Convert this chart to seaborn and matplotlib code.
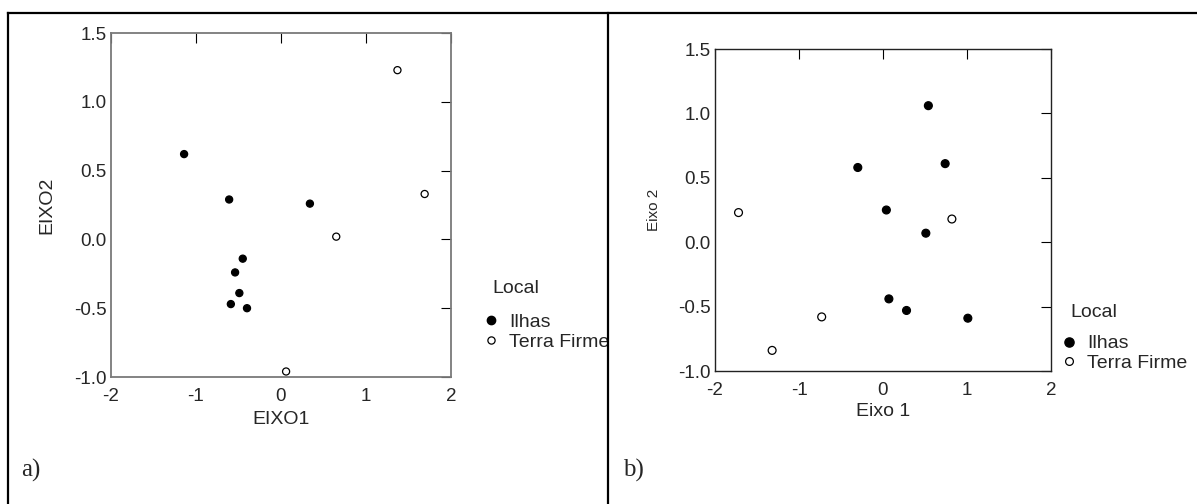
import matplotlib
matplotlib.use('Agg')
import matplotlib.pyplot as plt
from matplotlib.lines import Line2D
import seaborn as sns
import pandas as pd

# panel a) values
eixo1_a = [-1.14, -0.61, 0.34, -0.45, -0.54, -0.49, -0.59, -0.40,
           1.37, 1.69, 0.65, 0.06]
eixo2_a = [0.62, 0.29, 0.26, -0.14, -0.24, -0.39, -0.47, -0.50,
           1.23, 0.33, 0.02, -0.96]
local_a = ["Ilhas"] * 8 + ["Terra Firme"] * 4

# panel b)
eixo1_b = [0.54, -0.30, 0.74, 0.04, 0.51, 0.07, 0.28, 1.01,
           -1.72, 0.82, -0.73, -1.32]
eixo2_b = [1.06, 0.58, 0.61, 0.25, 0.07, -0.44, -0.53, -0.59,
           0.23, 0.18, -0.58, -0.84]
local_b = ["Ilhas"] * 8 + ["Terra Firme"] * 4

groups = ["Ilhas", "Terra Firme"]
x_ticks = [-2, -1, 0, 1, 2]
y_ticks = [-1.0, -0.5, 0.0, 0.5, 1.0, 1.5]

sns.set_theme(style="white")
plt.rcParams['font.family'] = ['Liberation Sans', 'DejaVu Sans']
plt.rcParams['axes.unicode_minus'] = False

W, H = 1197, 504
fig = plt.figure(figsize=(W / 100, H / 100), dpi=100)
fig.patch.set_facecolor("white")


def px_axes(x0, y0, x1, y1):
    # pixel box (top-left origin) -> figure fraction
    return fig.add_axes([x0 / W, 1 - y1 / H, (x1 - x0) / W, (y1 - y0) / H])


def draw_panel(ax, df, xcol, ycol, spine_col, spine_lw, dot_size):
    sns.scatterplot(data=df, x=xcol, y=ycol, hue="Local", hue_order=groups,
                    palette={"Ilhas": "black", "Terra Firme": "white"},
                    edgecolor="black", linewidth=0.9, s=dot_size,
                    legend=False, ax=ax)
    ax.set_xlim(-2, 2)
    ax.set_ylim(-1.0, 1.5)
    ax.set_xticks(x_ticks)
    ax.set_yticks(y_ticks)
    ax.set_xticklabels([str(t) for t in x_ticks])
    ax.set_yticklabels([f"{t:.1f}" for t in y_ticks])
    ax.tick_params(direction="in", length=7.5, width=0.8, color="black",
                   top=True, right=True, labelsize=13.5)
    ax.tick_params(axis="x", pad=8)
    ax.tick_params(axis="y", pad=3)
    for sp in ax.spines.values():
        sp.set_color(spine_col)
        sp.set_linewidth(spine_lw)
    ax.set_facecolor("white")


def add_legend(ax, mx, my, title_y, ms_fill, ms_open):
    handles = [
        Line2D([], [], ls="", marker="o", markersize=ms_fill,
               markerfacecolor="black", markeredgecolor="black"),
        Line2D([], [], ls="", marker="o", markersize=ms_open,
               markerfacecolor="white", markeredgecolor="black",
               markeredgewidth=0.9),
    ]
    hl = 1.0
    fs = 14
    left = mx - hl * fs * 100 / 72 / 2
    ax.legend(handles, groups, loc="center left",
              bbox_to_anchor=(left / W, 1 - my / H),
              bbox_transform=fig.transFigure, frameon=False, borderpad=0,
              borderaxespad=0, handlelength=hl, handletextpad=0.45,
              labelspacing=0.12, fontsize=fs)
    fig.text((mx + 1) / W, 1 - title_y / H, "Local", fontsize=14,
             ha="left", va="baseline")


# panel a
df_a = pd.DataFrame({"EIXO1": eixo1_a, "EIXO2": eixo2_a, "Local": local_a})
ax1 = px_axes(111, 33, 451, 377)
draw_panel(ax1, df_a, "EIXO1", "EIXO2", "#7a7a7a", 1.3, 26)
ax1.set_xlabel("EIXO1", fontsize=14)
ax1.set_ylabel("EIXO2", fontsize=14)
ax1.xaxis.label.set_va("center")
ax1.yaxis.label.set_va("center")
ax1.xaxis.set_label_coords(0.5, (377 - 420) / 344)
ax1.yaxis.set_label_coords((47 - 111) / 340, 0.5)
add_legend(ax1, 491, 332, 293, 6.0, 5.2)

# panel b
df_b = pd.DataFrame({"Eixo 1": eixo1_b, "Eixo 2": eixo2_b, "Local": local_b})
ax2 = px_axes(715, 49, 1051, 371)
draw_panel(ax2, df_b, "Eixo 1", "Eixo 2", "#222222", 1.0, 32)
ax2.set_xlabel("Eixo 1", fontsize=14)
ax2.set_ylabel("Eixo 2", fontsize=11)
ax2.xaxis.label.set_va("center")
ax2.yaxis.label.set_va("center")
ax2.xaxis.set_label_coords(0.5, (371 - 411) / 322)
ax2.yaxis.set_label_coords((654 - 715) / 336, 0.5)
add_legend(ax2, 1069, 353.5, 317, 6.6, 5.6)

# panel letters
for x, lab in [(21, "a)"), (623, "b)")]:
    fig.text(x / W, 1 - 470 / H, lab, fontsize=18, ha="left", va="center",
             family=["Liberation Serif", "DejaVu Serif"])

# outer frame: top line, left edge and the divider
frame_kw = dict(transform=fig.transFigure, color="black", lw=1.6,
                solid_capstyle="projecting")
fig.add_artist(Line2D([8 / W, 1.0], [1 - 13 / H, 1 - 13 / H], **frame_kw))
fig.add_artist(Line2D([8 / W, 8 / W], [1 - 13 / H, 0.0], **frame_kw))
fig.add_artist(Line2D([608 / W, 608 / W], [1 - 13 / H, 0.0], **frame_kw))

fig.savefig("out.png", dpi=100, facecolor="white")
